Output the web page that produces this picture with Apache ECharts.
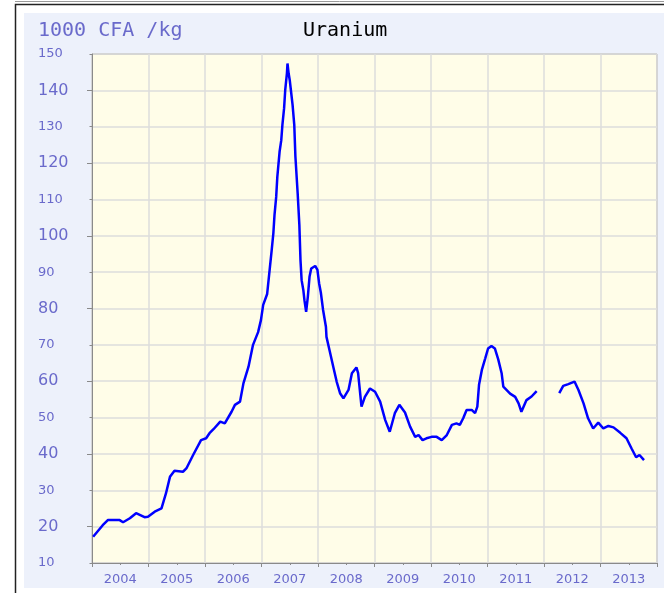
<!DOCTYPE html>
<html>
<head>
<meta charset="utf-8">
<title>Uranium</title>
<script src="https://cdn.jsdelivr.net/npm/echarts@6/dist/echarts.min.js"></script>
<style>
  html, body { margin: 0; padding: 0; background: #fff; }
  #chart { width: 664px; height: 593px; }
</style>
</head>
<body>
<div id="chart"></div>
<script>
// price points (year as decimal, 1000 CFA /kg)
var years = [
  2004.02, 2004.19, 2004.28, 2004.49, 2004.55, 2004.67, 2004.78, 2004.93, 2004.99,
  2005.11, 2005.23, 2005.31, 2005.38, 2005.46, 2005.61, 2005.67, 2005.79, 2005.93,
  2006.02, 2006.08, 2006.15, 2006.27, 2006.35, 2006.47, 2006.53, 2006.62, 2006.68,
  2006.77, 2006.85, 2006.94, 2006.99, 2007.03, 2007.10, 2007.15, 2007.18, 2007.21,
  2007.23, 2007.26, 2007.28, 2007.32, 2007.35, 2007.37, 2007.40, 2007.42, 2007.45,
  2007.46, 2007.48, 2007.50, 2007.52, 2007.55, 2007.58, 2007.60, 2007.64, 2007.67,
  2007.69, 2007.71, 2007.74, 2007.76, 2007.79, 2007.82, 2007.85, 2007.88, 2007.95,
  2007.99, 2008.02, 2008.05, 2008.09, 2008.14, 2008.15, 2008.21, 2008.27, 2008.33,
  2008.39, 2008.45, 2008.54, 2008.60, 2008.68, 2008.71, 2008.74, 2008.77, 2008.83,
  2008.92, 2009.01, 2009.10, 2009.19, 2009.27, 2009.36, 2009.44, 2009.54, 2009.63,
  2009.72, 2009.78, 2009.85, 2009.92, 2010.01, 2010.10, 2010.19, 2010.28, 2010.37,
  2010.45, 2010.51, 2010.57, 2010.63, 2010.72, 2010.78, 2010.82, 2010.85, 2010.90,
  2010.96, 2011.01, 2011.07, 2011.13, 2011.19, 2011.25, 2011.28, 2011.40, 2011.49,
  2011.55, 2011.60, 2011.69, 2011.78, 2011.87,
  2012.05,
  2012.27, 2012.34, 2012.43, 2012.54, 2012.61, 2012.70, 2012.78, 2012.87, 2012.96,
  2013.05, 2013.14, 2013.23, 2013.35, 2013.46, 2013.55, 2013.63, 2013.69, 2013.77
];
var prices = [
  17.2, 20.4, 21.8, 21.8, 21.2, 22.3, 23.7, 22.6, 22.7,
  24.1, 25.0, 29.2, 33.7, 35.4, 35.1, 36.0, 39.7, 43.8,
  44.3, 45.7, 46.8, 48.9, 48.4, 51.6, 53.5, 54.4, 59.4,
  64.0, 70.0, 73.5, 76.8, 81.0, 84.0, 91.5, 96.0, 100.7,
  105.7, 110.7, 116.2, 123.1, 126.3, 130.5, 135.1, 140.1, 144.7,
  147.4, 144.7, 142.8, 140.1, 136.0, 130.5, 121.8, 111.7, 103.0,
  93.3, 87.8, 85.1, 82.3, 79.1, 83.2, 88.7, 91.0, 91.7,
  90.6, 86.9, 84.4, 79.6, 75.0, 72.2, 68.1, 64.0, 59.9,
  56.7, 55.3, 57.6, 62.2, 63.8, 62.2, 57.6, 53.0, 55.7,
  58.0, 57.1, 54.4, 49.3, 46.1, 51.2, 53.5, 51.4, 47.5,
  44.7, 45.2, 43.8, 44.3, 44.7, 44.7, 43.8, 45.2, 48.0,
  48.4, 48.0, 49.8, 52.1, 52.1, 51.2, 53.0, 59.0, 63.1,
  66.3, 69.0, 69.7, 69.0, 66.0, 62.2, 58.5, 56.6, 55.7,
  53.9, 51.6, 54.8, 55.8, 57.3,
  null,
  56.7, 58.7, 59.2, 59.9, 57.6, 53.9, 49.8, 47.0, 48.6,
  47.0, 47.7, 47.3, 45.8, 44.3, 41.5, 39.1, 39.7, 38.3
];
var yearLabels = [2004, 2005, 2006, 2007, 2008, 2009, 2010, 2011, 2012, 2013];
var bigTicks = [20, 40, 60, 80, 100, 120, 140];

var labelColor = '#6a6acb';
var lineData = years.map(function (y, i) {
  return [y, prices[i] === null ? '-' : prices[i]];
});

var option = {
  animation: false,
  backgroundColor: '#fff',
  graphic: [
    { type: 'line', shape: { x1: 15, y1: 1.5, x2: 664, y2: 1.5 }, style: { stroke: '#999', lineWidth: 1 } },
    { type: 'rect', shape: { x: 15.5, y: 4.5, width: 700, height: 700 }, style: { fill: '#fff', stroke: '#222', lineWidth: 1.5 }, z: -10 },
    { type: 'rect', shape: { x: 24, y: 13, width: 660, height: 575 }, style: { fill: '#edf1fb' }, z: -9 },
    { type: 'text', left: 38, top: 21, style: { text: '1000 CFA /kg', font: '20px "DejaVu Sans Mono"', fill: labelColor } },
    { type: 'text', left: 303, top: 21, style: { text: 'Uranium', font: '20px "DejaVu Sans Mono"', fill: '#000' } }
  ],
  grid: {
    left: 92, top: 54, right: 7, bottom: 30,
    show: true, backgroundColor: '#fffde8', borderColor: '#8a8a8a', borderWidth: 1
  },
  xAxis: {
    type: 'value', min: 2004, max: 2014, interval: 1,
    axisLine: { lineStyle: { color: '#8a8a8a' } },
    axisTick: { length: 4, lineStyle: { color: '#8a8a8a' } },
    minorTick: { show: true, splitNumber: 2, length: 2, lineStyle: { color: '#8a8a8a' } },
    splitLine: { show: true, lineStyle: { color: '#dcdcdc', width: 1.5 } },
    axisLabel: {
      customValues: yearLabels.map(function (y) { return y + 0.5; }),
      formatter: function (v) { return String(Math.floor(v)); },
      color: labelColor, fontFamily: 'DejaVu Sans', fontSize: 13, margin: 10
    }
  },
  yAxis: [
    {
      type: 'value', min: 10, max: 150, interval: 10,
      axisLine: { show: true, lineStyle: { color: '#8a8a8a' } },
      axisTick: { show: true, length: 2.5, lineStyle: { color: '#8a8a8a' } },
      splitLine: { show: true, lineStyle: { color: '#dcdcdc', width: 1.5 } },
      axisLabel: {
        align: 'left', margin: 54, color: labelColor, fontFamily: 'DejaVu Sans',
        formatter: function (v) {
          return (v / 10) % 2 === 0 ? '{b|' + v + '}' : '{s|' + v + '}';
        },
        rich: {
          b: { fontSize: 16, color: labelColor, fontFamily: 'DejaVu Sans' },
          s: { fontSize: 13, color: labelColor, fontFamily: 'DejaVu Sans' }
        }
      }
    },
    {
      type: 'value', min: 10, max: 150, position: 'left',
      axisLine: { show: false },
      splitLine: { show: false },
      axisLabel: { show: false },
      axisTick: { show: true, length: 5, customValues: bigTicks, lineStyle: { color: '#8a8a8a' } }
    }
  ],
  series: [{
    type: 'line',
    data: lineData,
    showSymbol: false,
    connectNulls: false,
    lineStyle: { color: '#0000ff', width: 2.5 }
  }]
};

var myChart = echarts.init(document.getElementById('chart'));
myChart.setOption(option);
</script>
</body>
</html>
